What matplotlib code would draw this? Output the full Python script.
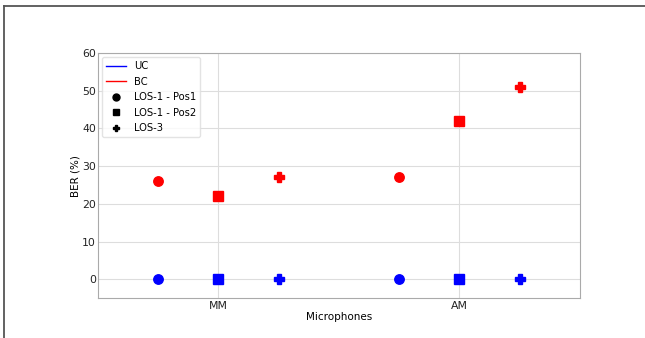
import numpy as np
import matplotlib.pyplot as plt
from matplotlib.lines import Line2D

# Data
mics = ["MM", "AM"]
cases = ["LOS-1 - Pos1", "LOS-1 - Pos2", "LOS-3"]
markers = ["o", "s", "P"]
uc_ber = [[0, 0], [0, 0], [0, 0]]       # per case, per microphone
bc_ber = [[26, 27], [22, 42], [27, 51]]

fig = plt.figure(figsize=(6.45, 3.38), dpi=100)
ax = fig.add_axes([0.152, 0.118, 0.747, 0.725])

x = np.arange(len(mics))
offsets = [-0.25, 0.0, 0.25]
for i in range(len(cases)):
    ax.plot(x + offsets[i], uc_ber[i], linestyle="none", marker=markers[i],
            color="blue", markersize=6.8, zorder=3)
    ax.plot(x + offsets[i], bc_ber[i], linestyle="none", marker=markers[i],
            color="red", markersize=6.8, zorder=3)

ax.set_xlim(-0.5, 1.5)
ax.set_ylim(-5, 60)
ax.set_xticks(x)
ax.set_xticklabels(mics)
ax.set_yticks(np.arange(0, 61, 10))
ax.grid(True, color="#dddddd", linewidth=0.8)
ax.set_axisbelow(True)
for s in ax.spines.values():
    s.set_color("#aaaaaa")
ax.tick_params(labelsize=7.8, colors="#222222", length=0)
ax.tick_params(axis="y", pad=1.5)
ax.tick_params(axis="x", pad=2)
ax.set_xlabel("Microphones", fontsize=7.5, labelpad=1)
ax.set_ylabel("BER (%)", fontsize=7.5, labelpad=1)

handles = [Line2D([], [], color="blue", lw=1, label="UC"),
           Line2D([], [], color="red", lw=1, label="BC")]
for m, c in zip(markers, cases):
    handles.append(Line2D([], [], color="black", marker=m, linestyle="none",
                          markersize=5, label=c))
ax.legend(handles=handles, loc="upper left", fontsize=7.2, framealpha=0.8,
          edgecolor="#dddddd", borderaxespad=0.4, handlelength=2.0, labelspacing=0.55,
          handletextpad=0.8)

# partial figure frame
fig.add_artist(Line2D([4 / 645, 1.0], [1 - 6 / 338, 1 - 6 / 338], color="#555555", lw=1.3,
                      transform=fig.transFigure))
fig.add_artist(Line2D([4 / 645, 4 / 645], [0.0, 1 - 6 / 338], color="#555555", lw=1.3,
                      transform=fig.transFigure))

fig.savefig("out.png", dpi=100)
